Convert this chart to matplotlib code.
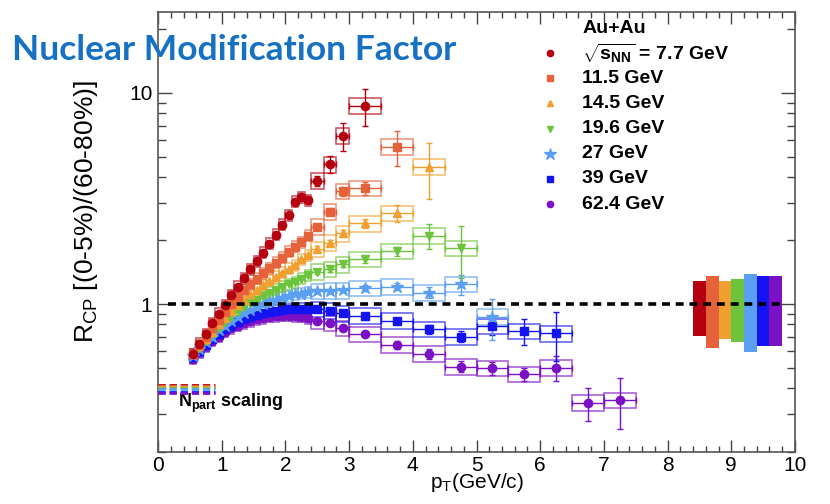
import matplotlib
matplotlib.use("Agg")
import matplotlib.pyplot as plt
from matplotlib.patches import Rectangle
from matplotlib.ticker import FixedLocator, LogLocator, NullFormatter, MultipleLocator

plt.rcParams['font.family'] = ['Liberation Sans', 'DejaVu Sans']
plt.rcParams['mathtext.fontset'] = 'custom'
plt.rcParams['mathtext.rm'] = 'Liberation Sans'
plt.rcParams['mathtext.it'] = 'Liberation Sans:italic'
plt.rcParams['mathtext.bf'] = 'Liberation Sans:bold'

# ---- data -------------------------------------------------------------
pt_centers = [0.55, 0.65, 0.75, 0.85, 0.95, 1.05, 1.15, 1.25, 1.35, 1.45,
              1.55, 1.65, 1.75, 1.85, 1.95, 2.05, 2.15, 2.25, 2.35,
              2.5, 2.7, 2.9,
              3.25, 3.75, 4.25, 4.75, 5.25, 5.75, 6.25, 6.75, 7.25]
bin_widths = [0.1] * 19 + [0.2] * 3 + [0.5] * 9
n_low = 19  # points below 2.4 GeV/c (stat. errors within markers)

energies = ["7.7", "11.5", "14.5", "19.6", "27", "39", "62.4"]

rcp_7p7 = [0.58, 0.65, 0.72, 0.81, 0.90, 0.99, 1.10, 1.21, 1.33, 1.46,
           1.60, 1.75, 1.93, 2.13, 2.38, 2.64, 3.05, 3.20, 3.11,
           3.83, 4.59, 6.28, 8.70]
rcp_11p5 = [0.58, 0.64, 0.70, 0.77, 0.84, 0.92, 1.00, 1.08, 1.16, 1.24,
            1.32, 1.40, 1.48, 1.57, 1.66, 1.77, 1.87, 1.96, 2.11,
            2.32, 2.74, 3.42, 3.54, 5.57]
rcp_14p5 = [0.58, 0.63, 0.68, 0.74, 0.80, 0.86, 0.93, 0.99, 1.05, 1.11,
            1.17, 1.23, 1.29, 1.35, 1.41, 1.47, 1.53, 1.63, 1.71,
            1.82, 1.95, 2.16, 2.41, 2.69, 4.48]
rcp_19p6 = [0.58, 0.62, 0.67, 0.72, 0.77, 0.82, 0.87, 0.92, 0.97, 1.01,
            1.05, 1.09, 1.13, 1.17, 1.21, 1.24, 1.27, 1.32, 1.37,
            1.42, 1.46, 1.54, 1.63, 1.78, 2.11, 1.84]
rcp_27 = [0.57, 0.61, 0.66, 0.70, 0.75, 0.79, 0.83, 0.87, 0.91, 0.94,
          0.97, 1.00, 1.03, 1.05, 1.07, 1.09, 1.11, 1.12, 1.14,
          1.15, 1.155, 1.16, 1.19, 1.21, 1.13, 1.24, 0.87]
rcp_39 = [0.56, 0.60, 0.64, 0.68, 0.72, 0.76, 0.79, 0.82, 0.85, 0.87,
          0.89, 0.91, 0.92, 0.93, 0.94, 0.945, 0.95, 0.95, 0.95,
          0.944, 0.927, 0.903, 0.88, 0.834, 0.76, 0.70, 0.786, 0.745, 0.726]
rcp_62p4 = [0.55, 0.59, 0.63, 0.67, 0.70, 0.74, 0.77, 0.79, 0.81, 0.83,
            0.85, 0.86, 0.87, 0.875, 0.88, 0.88, 0.875, 0.87, 0.86,
            0.834, 0.81, 0.77, 0.72, 0.64, 0.58, 0.505, 0.496, 0.466, 0.50,
            0.34, 0.351]

# relative statistical errors for the points from 2.5 GeV/c upward
stat_7p7 = [0.05, 0.09, 0.15, 0.20]
stat_11p5 = [0.03, 0.04, 0.05, 0.07, 0.19]
stat_14p5 = [0.03, 0.03, 0.04, 0.05, 0.09, 0.30]
stat_19p6 = [0.02, 0.03, 0.03, 0.04, 0.05, 0.14, 0.28]
stat_27 = [0.02, 0.02, 0.02, 0.03, 0.04, 0.06, 0.11, 0.22]
stat_39 = [0.02, 0.02, 0.02, 0.03, 0.03, 0.05, 0.06, 0.09, 0.14, 0.26]
stat_62p4 = [0.02, 0.02, 0.02, 0.03, 0.04, 0.05, 0.06, 0.07, 0.07, 0.14,
             0.18, 0.27]

# normalisation uncertainty bands (lower, upper) and Npart-scaling levels
norm_lo = [0.705, 0.62, 0.68, 0.66, 0.59, 0.63, 0.63]
norm_hi = [1.28, 1.36, 1.29, 1.31, 1.39, 1.36, 1.36]
norm_x = [8.5, 8.7, 8.9, 9.1, 9.3, 9.5, 9.7]
npart_level = [0.415, 0.41, 0.405, 0.40, 0.395, 0.385, 0.38]

series_vals = [rcp_7p7, rcp_11p5, rcp_14p5, rcp_19p6, rcp_27, rcp_39, rcp_62p4]
series_stat = [stat_7p7, stat_11p5, stat_14p5, stat_19p6, stat_27, stat_39, stat_62p4]

colors = ["#b5000f", "#e5623a", "#f0a030", "#6cc43c", "#5a9ff2", "#1414f0", "#7c10c4"]
markers = ["o", "s", "^", "v", "*", "s", "o"]
msizes = [6, 5.5, 6, 6, 9, 5.5, 6]
leg_msizes = [4.5, 4.5, 4.5, 4.5, 9, 4.5, 4.5]

SYS_LOW, SYS_HIGH = 0.06, 0.085

# ---- figure -----------------------------------------------------------
fig = plt.figure(figsize=(8.30, 5.04), dpi=100)
ax = fig.add_axes([0.1904, 0.1032, 0.7674, 0.8730])
ax.set_yscale("log")
ax.set_xlim(0, 10)
ax.set_ylim(0.199, 24.2)

for i in reversed(range(len(energies))):
    vals = series_vals[i]
    n = len(vals)
    col = colors[i]
    for k in range(n):
        s = SYS_LOW if k < n_low else SYS_HIGH
        x0 = pt_centers[k] - bin_widths[k] / 2
        ax.add_patch(Rectangle((x0, vals[k] * (1 - s)), bin_widths[k],
                               vals[k] * 2 * s, fill=False, edgecolor=col,
                               alpha=0.65, lw=1.2, zorder=2))
    stat = [0.0] * n_low + series_stat[i]
    yerr = [v * e for v, e in zip(vals, stat)]
    ax.errorbar(pt_centers[:n], vals, xerr=[w / 2 for w in bin_widths[:n]],
                yerr=yerr, fmt=markers[i], color=col, ms=msizes[i],
                mec=col, elinewidth=1.0, capsize=2, capthick=1.0,
                ecolor=col, zorder=3)

# normalisation bands
ax.bar(norm_x, [h - l for h, l in zip(norm_hi, norm_lo)], width=0.2,
       bottom=norm_lo, color=colors, edgecolor="none", zorder=2)

# unity line
ax.plot([0.15, 9.8], [1, 1], color="black", lw=2.6, ls=(0, (2.2, 1.6)), zorder=6)

# Npart scaling expectation
for lvl, col in zip(npart_level, colors):
    ax.plot([0.0, 0.9], [lvl, lvl], color=col, lw=2.0, ls=(0, (2.6, 1.4)), zorder=4)
ax.text(0.31, 0.325, r"N$_{\mathbf{part}}$ scaling", fontsize=13, fontweight="bold",
        ha="left", va="baseline")

# legend
ax.text(0.666, 0.9636, "Au+Au", transform=ax.transAxes, fontsize=14,
        fontweight="bold", ha="left", va="center")
labels = [r"$\sqrt{\mathbf{s_{NN}}}$ = 7.7 GeV", "11.5 GeV", "14.5 GeV",
          "19.6 GeV", "27 GeV", "39 GeV", "62.4 GeV"]
for i, lab in enumerate(labels):
    yy = 0.907 - i * 0.0573
    ax.plot([0.615], [yy], marker=markers[i], color=colors[i], ms=leg_msizes[i],
            transform=ax.transAxes, clip_on=False, ls="none")
    ax.text(0.666, yy, lab, transform=ax.transAxes, fontsize=14,
            fontweight="bold", ha="left", va="center")

# axes styling
ax.xaxis.set_major_locator(MultipleLocator(1))
ax.xaxis.set_minor_locator(MultipleLocator(0.2))
ax.yaxis.set_major_locator(FixedLocator([1, 10]))
ax.yaxis.set_major_formatter(matplotlib.ticker.FixedFormatter(["1", "10"]))
ax.yaxis.set_minor_locator(LogLocator(base=10, subs=range(2, 10)))
ax.yaxis.set_minor_formatter(NullFormatter())
ax.tick_params(axis="both", which="both", direction="in", top=True, right=True,
               labelsize=15, color="#444444", width=1.0)
ax.tick_params(axis="x", which="major", length=8.6, pad=3)
ax.tick_params(axis="x", which="minor", length=4.3)
ax.tick_params(axis="y", which="major", length=10, pad=4)
ax.tick_params(axis="y", which="minor", length=6)
for sp in ax.spines.values():
    sp.set_color("#555555")
    sp.set_linewidth(1.2)

ax.set_xlabel(r"p$_{\rm T}$(GeV/c)", fontsize=15, labelpad=-3)
ax.set_ylabel(r"R$_{\rm CP}$ [(0-5%)/(60-80%)]", fontsize=19)
ax.yaxis.set_label_coords(-0.091, 0.547)

fig.text(12 / 830, 1 - 50 / 504, "Nuclear Modification Factor", color="#1670c4",
         fontsize=25.5, fontweight="bold", family="Lato", ha="left", va="center")

fig.savefig("out.png", dpi=100)
